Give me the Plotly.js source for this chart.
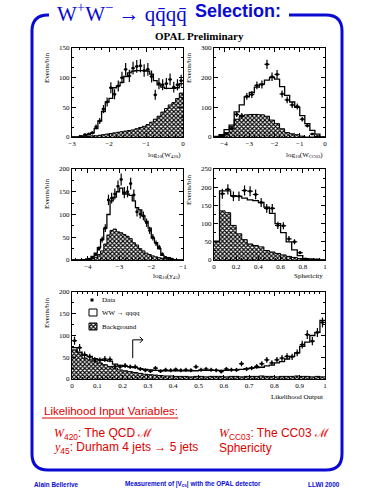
<!DOCTYPE html>
<html><head><meta charset="utf-8">
<script src="https://cdn.plot.ly/plotly-3.0.1.min.js"></script>
<style>html,body{margin:0;padding:0;background:#fff;} #chart{width:375px;height:500px;}</style>
</head><body><div id="chart"></div>
<script>
// ---------- Panel 1: log10(W420), 30 bins of 0.1 from -3 to 0 ----------
const w420Lo = -3, w420Bin = 0.1;
const w420Data = [null,null,1,4,5,7,17,27,47,59,83,72,86,100,114,103,116,119,120,112,114,102,71,90,88,90,97,84,88,95];
const w420MC   = [0,0,1,2,4,7,14,27,43,59,65,83,86,92,102,108,111,112,112,112,111,106,95,88,84,82,82,82,83,90];
const w420Bkg  = [0,0,0,0.5,1,2,2,3,4,5,6,7,8,9,10,11,12,14,16,18,21,25,30,35,42,48,54,58,65,74];

// ---------- Panel 2: log10(Wcc03), 22 bins of 0.2 from -4.4 to 0 ----------
const wccLo = -4.4, wccBin = 0.2;
const wccData = [null,2,10,28,76,72,137,143,174,177,245,203,211,145,125,108,103,60,38,10,2,null];
const wccMC   = [2,8,25,40,85,108,135,150,168,178,192,200,195,170,140,118,100,72,45,22,10,0];
const wccBkg  = [0,5,15,35,60,72,75,76,76,75,70,57,45,28,15,11,8,3,0,0,0,0];

// ---------- Panel 3: log10(y45), 35 bins of 0.1 from -4.5 to -1 ----------
const y45Lo = -4.5, y45Bin = 0.1;
const y45Data = [null,null,null,null,1,2,5,12,25,45,70,132,136,145,162,177,148,150,168,143,106,101,97,82,65,50,37,28,13,6,4,2,null,null,null];
const y45MC   = [0,0,0,1,1,3,8,15,27,45,70,100,130,138,150,158,145,145,142,130,115,110,97,85,70,48,38,25,10,5,5,2,1,0,0];
const y45Bkg  = [0,0,0,0,0,1,3,6,12,20,35,55,65,68,62,60,56,52,47,38,33,25,20,15,12,9,7,5,4,3,2,1,0,0,0];

// ---------- Panel 4: Sphericity, 20 bins of 0.05 from 0 to 1 ----------
const sphLo = 0, sphBin = 0.05;
const sphData = [null,182,194,175,175,191,189,180,158,142,142,95,94,58,50,20,3,null,null,null];
const sphMC   = [52,190,190,177,175,170,165,163,158,145,128,100,75,50,28,12,4,3,2,0];
const sphBkg  = [50,135,130,95,72,56,44,40,36,26,22,18,14,10,7,4,2,1,0,0];

// ---------- Panel 5: Likelihood output, 50 bins of 0.02 from 0 to 1 ----------
const likLo = 0, likBin = 0.02;
const likData = [88,72,56,51,44,43,46,45,29,28, 31,28,28,23,20,18,25,18,21,20,
                 22,20,21,20,28,21,23,21,20,17, 23,21,21,35,23,25,29,35,44,37,
                 44,48,52,51,60,79,102,87,107,130];
const likMC   = [72,62,55,52,47,45,43,41,34,31, 29,28,26,24,22,21,20,20,19,19,
                 19,19,19,19,19,20,20,20,20,20, 20,21,21,22,24,25,26,27,30,32,
                 37,40,46,52,60,75,85,100,107,135];
const likBkg  = [67,60,48,44,41,37,33,29,25,21, 19,17,15,13,11,10,9,8,7,7,
                 6,6,6,5,6,6,5,6,6,6, 5,6,6,5,6,6,6,7,6,6,
                 5,6,6,6,7,6,6,5,6,5];
const likCut = 0.24;

// ---------- styling / layout helpers ----------
const W = 375, H = 500;
const BLUE = '#0a0ad2', RED = '#dd0000';
const SERIF = 'Liberation Serif', SANS = 'Liberation Sans';
const hatch = {shape:'x', fgcolor:'black', bgcolor:'white', size:3, solidity:0.6};
const domX = (a,b) => [a/W, b/W];
const domY = (top,bot) => [1-bot/H, 1-top/H];

const traces = [];
function panel(k, lo, bw, data, mc, bg) {
  const xa = k===1 ? 'x' : 'x'+k, ya = k===1 ? 'y' : 'y'+k;
  const n = mc.length;
  const centers = mc.map((_, i) => lo + bw*(i+0.5));
  const edges = centers.map(c => c - bw/2).concat([lo + bw*n]);
  traces.push({type:'bar', x:centers, y:bg, width:bw, xaxis:xa, yaxis:ya,
    marker:{color:'white', pattern:hatch, line:{width:0}}, showlegend:false});
  traces.push({type:'scatter', mode:'lines', x:edges, y:bg.concat([bg[n-1]]), xaxis:xa, yaxis:ya,
    line:{shape:'hv', color:'black', width:1}, showlegend:false});
  traces.push({type:'scatter', mode:'lines', x:edges, y:mc.concat([mc[n-1]]), xaxis:xa, yaxis:ya,
    line:{shape:'hv', color:'black', width:1.3}, showlegend:false});
  traces.push({type:'scatter', mode:'markers', x:centers, y:data, xaxis:xa, yaxis:ya,
    marker:{size:2.5, color:'black', symbol:'square'},
    error_y:{type:'sqrt', color:'black', thickness:1.2, width:0},
    error_x:{type:'constant', value:bw/2, color:'black', thickness:1.2, width:0},
    showlegend:false});
}
panel(1, w420Lo, w420Bin, w420Data, w420MC, w420Bkg);
panel(2, wccLo, wccBin, wccData, wccMC, wccBkg);
panel(3, y45Lo, y45Bin, y45Data, y45MC, y45Bkg);
panel(4, sphLo, sphBin, sphData, sphMC, sphBkg);
panel(5, likLo, likBin, likData, likMC, likBkg);

// legend swatch for background (pixel overlay axes)
traces.push({type:'scatter', mode:'lines', x:[89,97,97,89,89], y:[323,323,330,330,323],
  xaxis:'x6', yaxis:'y6', fill:'toself', fillcolor:'white', fillpattern:hatch,
  line:{color:'black', width:1}, showlegend:false});

function axis(domain, range, dtick, minor, anchor) {
  return {domain, range, dtick, anchor, tick0:0,
    showline:true, linecolor:'black', linewidth:1, mirror:'allticks',
    ticks:'inside', ticklen:4, tickwidth:1, tickcolor:'black',
    minor:{ticks:'inside', ticklen:2, dtick:minor, tickcolor:'black', showgrid:false},
    showgrid:false, zeroline:false, fixedrange:true,
    tickfont:{family:SERIF, size:7, color:'black'}};
}

const layout = {
  width:W, height:H, margin:{l:0,r:0,t:0,b:0},
  paper_bgcolor:'white', plot_bgcolor:'rgba(0,0,0,0)',
  barmode:'overlay', bargap:0, showlegend:false,
  font:{family:SERIF, color:'black'},
  xaxis:  axis(domX(72,183),  [-3,0],    1,   0.2,  'y'),
  yaxis:  axis(domY(48,137),  [0,150],   50,  50/3, 'x'),
  xaxis2: axis(domX(214,325), [-4.4,0],  1,   0.2,  'y2'),
  yaxis2: axis(domY(48,137),  [0,300],   100, 100/3,'x2'),
  xaxis3: axis(domX(72,183),  [-4.5,-1], 1,   0.2,  'y3'),
  yaxis3: axis(domY(169,260), [0,200],   50,  25,   'x3'),
  xaxis4: axis(domX(214,325), [0,1],     0.2, 0.05, 'y4'),
  yaxis4: axis(domY(169,260), [0,250],   50,  25,   'x4'),
  xaxis5: axis(domX(72,325),  [0,1],     0.1, 0.02, 'y5'),
  yaxis5: axis(domY(292,379), [0,200],   50,  25,   'x5'),
  xaxis6: {domain:[0,1], range:[0,W], visible:false, fixedrange:true, anchor:'y6'},
  yaxis6: {domain:[0,1], range:[H,0], visible:false, fixedrange:true, anchor:'x6'},
  shapes: [], annotations: []
};

const S = layout.shapes, A = layout.annotations;
// blue rounded frame with a gap for the heading
const L = 32, R = 342, T = 15, B = 470, r = 16;
S.push({type:'path', xref:'x6', yref:'y6', line:{color:BLUE, width:3},
  path:`M 49,${T} L ${L+r},${T} Q ${L},${T} ${L},${T+r} L ${L},${B-r} Q ${L},${B} ${L+r},${B} L ${R-r},${B} Q ${R},${B} ${R},${B-r} L ${R},${T+r} Q ${R},${T} ${R-r},${T} L 289,${T}`});
// legend boxes
S.push({type:'rect', xref:'x6', yref:'y6', x0:90.5, x1:93.5, y0:298.5, y1:301.5, fillcolor:'black', line:{width:0}});
S.push({type:'rect', xref:'x6', yref:'y6', x0:89, x1:97, y0:309, y1:316, fillcolor:'white', line:{color:'black', width:1}});
// cut arrow on likelihood panel
S.push({type:'path', xref:'x5', yref:'y5', line:{color:'black', width:1},
  path:`M ${likCut},48 L ${likCut},90 L ${likCut+0.04},90`});
S.push({type:'path', xref:'x5', yref:'y5', line:{color:'black', width:1},
  path:`M ${likCut+0.028},97 L ${likCut+0.04},90 L ${likCut+0.028},83`});
// underline
S.push({type:'line', xref:'x6', yref:'y6', x0:42, x1:178, y0:418, y1:418, line:{color:RED, width:1}});

function txt(x, y, text, o) {
  A.push(Object.assign({xref:'x6', yref:'y6', x, y, text, showarrow:false,
    xanchor:'left', yanchor:'middle', font:{family:SERIF, size:7, color:'black'}}, o||{}));
}
// heading
txt(55, 12, 'W<sup>+</sup>W<sup>−</sup> → qq̄qq̄', {font:{family:SERIF, size:21, color:BLUE}});
txt(193, 11, '<b>Selection:</b>', {font:{family:SANS, size:18, color:BLUE}});
txt(199, 36, '<b>OPAL Preliminary</b>', {xanchor:'center', font:{family:SERIF, size:11, color:'black'}});
// y titles
[[47,68],[189,68],[47,194],[189,190],[47,313]].forEach(p =>
  txt(p[0], p[1], 'Events/bin', {xanchor:'center', textangle:-90}));
// x titles
txt(183, 155, 'log<sub>10</sub>(W<sub>420</sub>)', {xanchor:'right'});
txt(325, 155, 'log<sub>10</sub>(W<sub>CC03</sub>)', {xanchor:'right'});
txt(183, 276, 'log<sub>10</sub>(y<sub>45</sub>)', {xanchor:'right'});
txt(325, 276, 'Sphericity', {xanchor:'right'});
txt(325, 397, 'Likelihood Output', {xanchor:'right'});
// legend text
txt(100, 300, 'Data');
txt(100, 313, 'WW → qqqq');
txt(100, 327, 'Background');
// red text block
const redF = {family:SANS, size:11.5, color:RED};
txt(42, 411, 'Likelihood Input Variables:', {font:redF});
const redF2 = {family:SANS, size:12, color:RED};
txt(52, 434, '<span style="font-family:Liberation Serif"><i>W</i></span><sub>420</sub>: The QCD ℳ', {font:redF2});
txt(217, 434, '<span style="font-family:Liberation Serif"><i>W</i></span><sub>CC03</sub>: The CC03 ℳ', {font:redF2});
txt(52, 448, '<span style="font-family:Liberation Serif"><i>y</i></span><sub>45</sub>: Durham 4 jets → 5 jets', {font:redF2});
txt(217, 448, 'Sphericity', {font:redF2});
// footer
const footF = {family:SANS, size:6.4, color:BLUE};
txt(32, 484, '<b>Alain Bellerive</b>', {font:footF});
txt(193, 484, '<b>Measurement of |V<sub>cs</sub>| with the OPAL detector</b>', {xanchor:'center', font:footF});
txt(342, 484, '<b>LLWI 2000</b>', {xanchor:'right', font:footF});

Plotly.newPlot('chart', traces, layout, {staticPlot:true, displayModeBar:false});
</script>
</body></html>
